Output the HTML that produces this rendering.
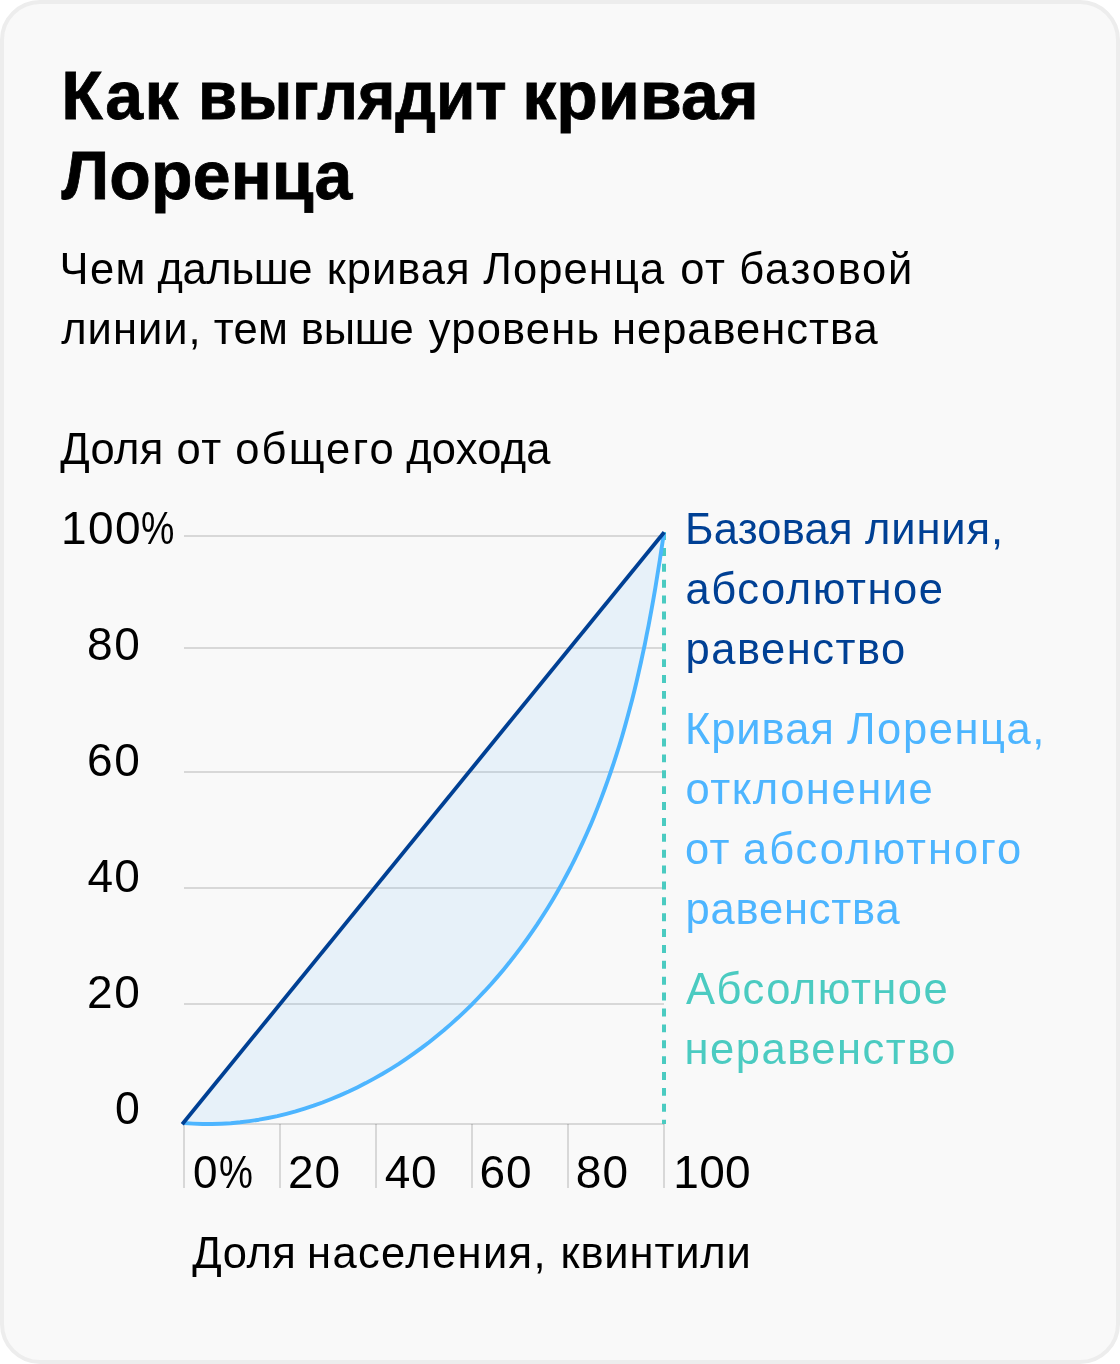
<!DOCTYPE html>
<html lang="ru">
<head>
<meta charset="utf-8">
<title>Как выглядит кривая Лоренца</title>
<style>
html,body{margin:0;padding:0;background:#fff;}
body{width:1120px;height:1364px;position:relative;overflow:hidden;font-family:"Liberation Sans",sans-serif;}
.card{position:absolute;left:0;top:0;width:1120px;height:1364px;box-sizing:border-box;border:4px solid #ededed;border-radius:40px;background:#f9f9f9;}
.chart{position:absolute;left:0;top:0;width:1120px;height:1364px;}
.g{position:absolute;left:0;top:0;margin:0;padding:0;}
.txt{position:absolute;left:0;top:0;width:1120px;height:1364px;will-change:transform;}
.t{position:absolute;white-space:nowrap;margin:0;padding:0;font-weight:400;}
#t1_0{left:61.30px;top:61.40px;font-size:68px;line-height:68px;letter-spacing:1.574px;color:#000;font-weight:700;-webkit-text-stroke:0.8px #000;}
#t1_1{left:197.88px;top:61.40px;font-size:68px;line-height:68px;color:#000;font-weight:700;-webkit-text-stroke:0.8px #000;transform:scaleX(0.9422);transform-origin:0 0;}
#t1_2{left:522.15px;top:61.40px;font-size:68px;line-height:68px;letter-spacing:0.170px;color:#000;font-weight:700;-webkit-text-stroke:0.8px #000;}
#t2{left:61.50px;top:141.40px;font-size:68px;line-height:68px;letter-spacing:0.132px;color:#000;font-weight:700;-webkit-text-stroke:0.8px #000;}
#s1_0{left:59.50px;top:247.75px;font-size:43.5px;line-height:43.5px;letter-spacing:1.407px;color:#000;}
#s1_1{left:157.50px;top:247.75px;font-size:43.5px;line-height:43.5px;letter-spacing:-0.354px;color:#000;}
#s1_2{left:326.75px;top:247.75px;font-size:43.5px;line-height:43.5px;letter-spacing:0.983px;color:#000;}
#s1_3{left:483.25px;top:247.75px;font-size:43.5px;line-height:43.5px;letter-spacing:1.115px;color:#000;}
#s1_4{left:680.25px;top:247.75px;font-size:43.5px;line-height:43.5px;letter-spacing:1.513px;color:#000;}
#s1_5{left:739.25px;top:247.75px;font-size:43.5px;line-height:43.5px;letter-spacing:1.778px;color:#000;}
#s2_0{left:61.25px;top:307.75px;font-size:43.5px;line-height:43.5px;letter-spacing:0.990px;color:#000;}
#s2_1{left:213.75px;top:307.75px;font-size:43.5px;line-height:43.5px;letter-spacing:0.311px;color:#000;}
#s2_2{left:300.75px;top:307.75px;font-size:43.5px;line-height:43.5px;letter-spacing:-0.174px;color:#000;}
#s2_3{left:428.75px;top:307.75px;font-size:43.5px;line-height:43.5px;letter-spacing:1.211px;color:#000;}
#s2_4{left:612.00px;top:307.75px;font-size:43.5px;line-height:43.5px;letter-spacing:0.977px;color:#000;}
#ya_0{left:60.25px;top:427.75px;font-size:43.5px;line-height:43.5px;letter-spacing:0.311px;color:#000;}
#ya_1{left:176.50px;top:427.75px;font-size:43.5px;line-height:43.5px;letter-spacing:1.513px;color:#000;}
#ya_2{left:235.25px;top:427.75px;font-size:43.5px;line-height:43.5px;letter-spacing:2.148px;color:#000;}
#ya_3{left:406.25px;top:427.75px;font-size:43.5px;line-height:43.5px;letter-spacing:0.207px;color:#000;}
#y100_0{left:61.10px;top:504.75px;font-size:46px;line-height:46px;letter-spacing:1.417px;color:#000;}
#y100_1{left:140.98px;top:504.75px;font-size:46px;line-height:46px;color:#000;transform:scaleX(0.8154);transform-origin:0 0;}
#y80{left:87.10px;top:620.75px;font-size:46px;line-height:46px;letter-spacing:1.517px;color:#000;}
#y60{left:87.10px;top:736.75px;font-size:46px;line-height:46px;letter-spacing:1.517px;color:#000;}
#y40{left:87.50px;top:852.75px;font-size:46px;line-height:46px;letter-spacing:1.117px;color:#000;}
#y20{left:87.10px;top:968.75px;font-size:46px;line-height:46px;letter-spacing:1.517px;color:#000;}
#y0{left:114.93px;top:1084.75px;font-size:46px;line-height:46px;color:#000;transform:scaleX(0.9696);transform-origin:0 0;}
#x0_0{left:192.90px;top:1148.75px;font-size:46px;line-height:46px;color:#000;transform:scaleX(0.9583);transform-origin:0 0;}
#x0_1{left:219.07px;top:1148.75px;font-size:46px;line-height:46px;color:#000;transform:scaleX(0.8295);transform-origin:0 0;}
#x20{left:288.00px;top:1148.75px;font-size:46px;line-height:46px;letter-spacing:1.017px;color:#000;}
#x40{left:384.70px;top:1148.75px;font-size:46px;line-height:46px;letter-spacing:0.617px;color:#000;}
#x60{left:479.40px;top:1148.75px;font-size:46px;line-height:46px;letter-spacing:1.017px;color:#000;}
#x80{left:575.70px;top:1148.75px;font-size:46px;line-height:46px;letter-spacing:1.317px;color:#000;}
#x100{left:673.30px;top:1148.75px;font-size:46px;line-height:46px;letter-spacing:0.317px;color:#000;}
#xa_0{left:192.25px;top:1231.75px;font-size:43.5px;line-height:43.5px;letter-spacing:0.477px;color:#000;}
#xa_1{left:307.00px;top:1231.75px;font-size:43.5px;line-height:43.5px;letter-spacing:1.371px;color:#000;}
#xa_2{left:560.50px;top:1231.75px;font-size:43.5px;line-height:43.5px;letter-spacing:0.862px;color:#000;}
#l1a_0{left:685.00px;top:507.75px;font-size:43.5px;line-height:43.5px;letter-spacing:0.214px;color:#004094;}
#l1a_1{left:865.00px;top:507.75px;font-size:43.5px;line-height:43.5px;letter-spacing:0.888px;color:#004094;}
#l1b{left:685.40px;top:567.75px;font-size:43.5px;line-height:43.5px;letter-spacing:1.568px;color:#004094;}
#l1c{left:685.50px;top:627.75px;font-size:43.5px;line-height:43.5px;letter-spacing:1.498px;color:#004094;}
#l2a_0{left:685.00px;top:707.75px;font-size:43.5px;line-height:43.5px;letter-spacing:0.921px;color:#4DB5FF;}
#l2a_1{left:847.00px;top:707.75px;font-size:43.5px;line-height:43.5px;letter-spacing:1.571px;color:#4DB5FF;}
#l2b{left:685.40px;top:767.75px;font-size:43.5px;line-height:43.5px;letter-spacing:1.547px;color:#4DB5FF;}
#l2c_0{left:684.90px;top:827.75px;font-size:43.5px;line-height:43.5px;letter-spacing:1.363px;color:#4DB5FF;}
#l2c_1{left:743.00px;top:827.75px;font-size:43.5px;line-height:43.5px;letter-spacing:1.981px;color:#4DB5FF;}
#l2d{left:685.50px;top:887.75px;font-size:43.5px;line-height:43.5px;letter-spacing:0.798px;color:#4DB5FF;}
#l3a{left:686.00px;top:967.75px;font-size:43.5px;line-height:43.5px;letter-spacing:1.488px;color:#4BCBC1;}
#l3b{left:684.60px;top:1027.75px;font-size:43.5px;line-height:43.5px;letter-spacing:1.497px;color:#4BCBC1;}
</style>
</head>
<body>
<div class="card"></div>
<svg class="chart" width="1120" height="1364" viewBox="0 0 1120 1364">
<g stroke="#000" stroke-opacity="0.128" stroke-width="2" fill="none">
<path d="M184 536H664"/>
<path d="M184 648H664"/>
<path d="M184 772H664"/>
<path d="M184 888H664"/>
<path d="M184 1004H664"/>
<path d="M184 1124H664"/>
<path d="M184 1124V1188"/>
<path d="M280 1124V1188"/>
<path d="M376 1124V1188"/>
<path d="M472 1124V1188"/>
<path d="M568 1124V1188"/>
<path d="M664 1124V1188"/>
</g>
<path d="M183.5 1123.0 L193.0 1123.6 L202.5 1124.0 L211.9 1124.0 L221.4 1123.7 L230.8 1123.2 L240.2 1122.3 L249.5 1121.1 L258.9 1119.7 L268.1 1118.0 L277.3 1116.1 L286.5 1113.8 L295.6 1111.4 L304.6 1108.6 L313.6 1105.7 L322.5 1102.5 L331.3 1099.0 L340.0 1095.4 L348.7 1091.5 L357.2 1087.4 L365.7 1083.1 L374.0 1078.6 L382.2 1074.0 L390.4 1069.1 L398.4 1064.1 L406.2 1058.8 L414.0 1053.4 L421.6 1047.9 L429.1 1042.2 L436.5 1036.3 L443.8 1030.3 L450.9 1024.1 L457.9 1017.8 L464.8 1011.3 L471.5 1004.8 L478.1 998.0 L484.6 991.2 L491.0 984.2 L497.2 977.1 L503.3 969.9 L509.3 962.6 L515.1 955.1 L520.8 947.6 L526.4 940.0 L531.9 932.2 L537.2 924.4 L542.3 916.5 L547.4 908.5 L552.3 900.5 L557.1 892.3 L561.7 884.1 L566.2 875.8 L570.6 867.5 L574.8 859.1 L578.9 850.6 L582.9 842.1 L586.8 833.5 L590.6 824.9 L594.2 816.2 L597.7 807.4 L601.1 798.6 L604.4 789.8 L607.6 780.9 L610.7 772.0 L613.7 763.1 L616.6 754.1 L619.5 745.0 L622.2 736.0 L624.8 726.9 L627.3 717.7 L629.8 708.6 L632.2 699.4 L634.5 690.2 L636.7 681.0 L638.8 671.8 L640.9 662.5 L642.9 653.2 L644.9 644.0 L646.7 634.7 L648.6 625.4 L650.3 616.1 L652.0 606.8 L653.7 597.4 L655.3 588.1 L656.8 578.8 L658.3 569.5 L659.8 560.2 L661.2 550.9 L662.6 541.7 L664.0 532.4 L664 532 L182 1124 Z" fill="#4DB5FF" fill-opacity="0.1" stroke="none"/>
<path d="M664 532.1V1124" stroke="#4BCBC1" stroke-width="4" stroke-dasharray="7.94 7.94" fill="none"/>
<path d="M183.5 1123.0 L193.0 1123.6 L202.5 1124.0 L211.9 1124.0 L221.4 1123.7 L230.8 1123.2 L240.2 1122.3 L249.5 1121.1 L258.9 1119.7 L268.1 1118.0 L277.3 1116.1 L286.5 1113.8 L295.6 1111.4 L304.6 1108.6 L313.6 1105.7 L322.5 1102.5 L331.3 1099.0 L340.0 1095.4 L348.7 1091.5 L357.2 1087.4 L365.7 1083.1 L374.0 1078.6 L382.2 1074.0 L390.4 1069.1 L398.4 1064.1 L406.2 1058.8 L414.0 1053.4 L421.6 1047.9 L429.1 1042.2 L436.5 1036.3 L443.8 1030.3 L450.9 1024.1 L457.9 1017.8 L464.8 1011.3 L471.5 1004.8 L478.1 998.0 L484.6 991.2 L491.0 984.2 L497.2 977.1 L503.3 969.9 L509.3 962.6 L515.1 955.1 L520.8 947.6 L526.4 940.0 L531.9 932.2 L537.2 924.4 L542.3 916.5 L547.4 908.5 L552.3 900.5 L557.1 892.3 L561.7 884.1 L566.2 875.8 L570.6 867.5 L574.8 859.1 L578.9 850.6 L582.9 842.1 L586.8 833.5 L590.6 824.9 L594.2 816.2 L597.7 807.4 L601.1 798.6 L604.4 789.8 L607.6 780.9 L610.7 772.0 L613.7 763.1 L616.6 754.1 L619.5 745.0 L622.2 736.0 L624.8 726.9 L627.3 717.7 L629.8 708.6 L632.2 699.4 L634.5 690.2 L636.7 681.0 L638.8 671.8 L640.9 662.5 L642.9 653.2 L644.9 644.0 L646.7 634.7 L648.6 625.4 L650.3 616.1 L652.0 606.8 L653.7 597.4 L655.3 588.1 L656.8 578.8 L658.3 569.5 L659.8 560.2 L661.2 550.9 L662.6 541.7 L664.0 532.4" stroke="#4DB5FF" stroke-width="3.9" fill="none" stroke-linejoin="round"/>
<path d="M182.2 1124.2L664.2 532.2" stroke="#004094" stroke-width="3.8" fill="none"/>
</svg>
<main class="txt">
<header class="g">
<h1 class="g"><span class="t" id="t1_0">Как</span> <span class="t" id="t1_1">выглядит</span> <span class="t" id="t1_2">кривая</span> <span class="t" id="t2">Лоренца</span></h1>
<p class="g"><span class="t" id="s1_0">Чем</span> <span class="t" id="s1_1">дальше</span> <span class="t" id="s1_2">кривая</span> <span class="t" id="s1_3">Лоренца</span> <span class="t" id="s1_4">от</span> <span class="t" id="s1_5">базовой</span> <span class="t" id="s2_0">линии,</span> <span class="t" id="s2_1">тем</span> <span class="t" id="s2_2">выше</span> <span class="t" id="s2_3">уровень</span> <span class="t" id="s2_4">неравенства</span></p>
</header>
<div class="g"><span class="t" id="ya_0">Доля</span> <span class="t" id="ya_1">от</span> <span class="t" id="ya_2">общего</span> <span class="t" id="ya_3">дохода</span></div>
<div class="g">
<div class="g"><span class="t" id="y100_0">100</span><span class="t" id="y100_1">%</span></div>
<div class="g"><span class="t" id="y80">80</span></div>
<div class="g"><span class="t" id="y60">60</span></div>
<div class="g"><span class="t" id="y40">40</span></div>
<div class="g"><span class="t" id="y20">20</span></div>
<div class="g"><span class="t" id="y0">0</span></div>
</div>
<div class="g">
<div class="g"><span class="t" id="x0_0">0</span><span class="t" id="x0_1">%</span></div>
<div class="g"><span class="t" id="x20">20</span></div>
<div class="g"><span class="t" id="x40">40</span></div>
<div class="g"><span class="t" id="x60">60</span></div>
<div class="g"><span class="t" id="x80">80</span></div>
<div class="g"><span class="t" id="x100">100</span></div>
</div>
<div class="g"><span class="t" id="xa_0">Доля</span> <span class="t" id="xa_1">населения,</span> <span class="t" id="xa_2">квинтили</span></div>
<div class="g">
<p class="g"><span class="t" id="l1a_0">Базовая</span> <span class="t" id="l1a_1">линия,</span> <span class="t" id="l1b">абсолютное</span> <span class="t" id="l1c">равенство</span></p>
<p class="g"><span class="t" id="l2a_0">Кривая</span> <span class="t" id="l2a_1">Лоренца,</span> <span class="t" id="l2b">отклонение</span> <span class="t" id="l2c_0">от</span> <span class="t" id="l2c_1">абсолютного</span> <span class="t" id="l2d">равенства</span></p>
<p class="g"><span class="t" id="l3a">Абсолютное</span> <span class="t" id="l3b">неравенство</span></p>
</div>
</main>
</body>
</html>
